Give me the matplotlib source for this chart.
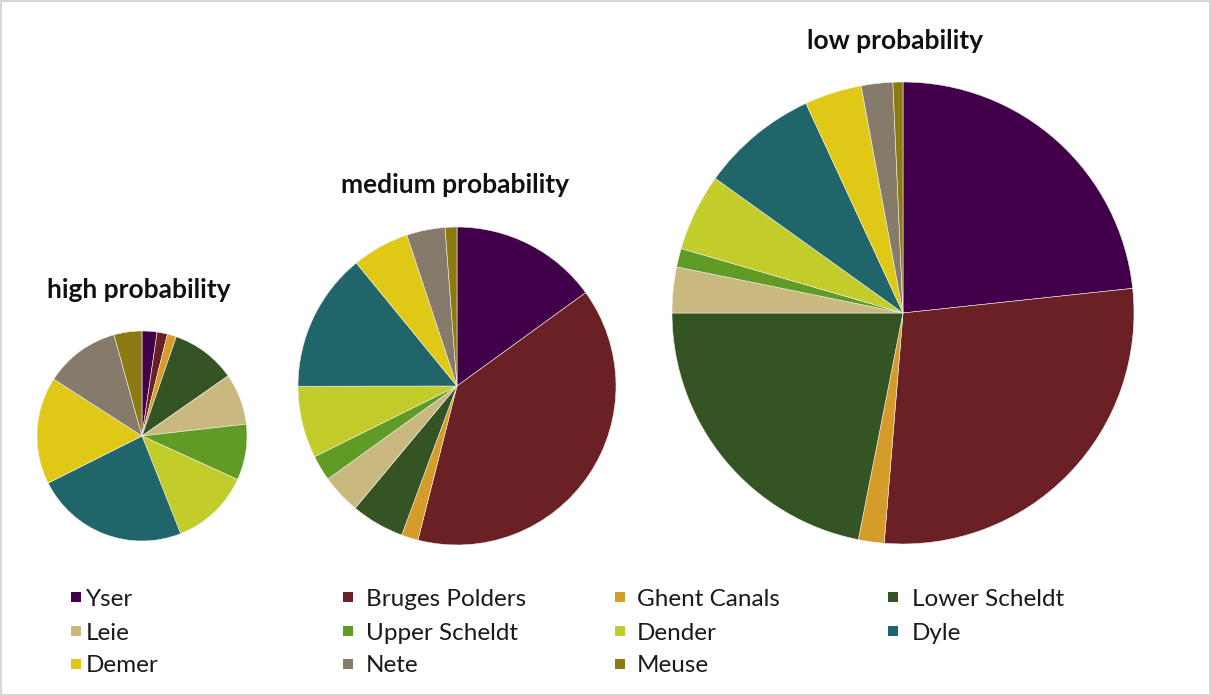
import matplotlib
matplotlib.use("Agg")
import matplotlib.pyplot as plt
from matplotlib.patches import Rectangle

# Basins, clockwise from 12 o'clock
basins = ["Yser", "Bruges Polders", "Ghent Canals", "Lower Scheldt", "Leie",
          "Upper Scheldt", "Dender", "Dyle", "Demer", "Nete", "Meuse"]
colors = ["#42004a", "#6a2025", "#d59c2a", "#345424", "#c9b97f",
          "#5f9b25", "#c2cc2a", "#1f6569", "#e0c816", "#867b6b", "#8b7b12"]

# Share of each basin (%) per flood probability scenario
high_prob = [2.3, 1.6, 1.4, 10.0, 7.9, 8.6, 12.2, 23.6, 16.5, 11.6, 4.3]
medium_prob = [15.0, 38.9, 1.7, 5.4, 4.0, 2.6, 7.3, 14.1, 5.8, 3.9, 1.2]
low_prob = [23.3, 28.0, 1.8, 21.9, 3.2, 1.3, 5.4, 8.2, 4.0, 2.2, 0.7]

titles = ["high probability", "medium probability", "low probability"]

W, H = 1211, 695
fig = plt.figure(figsize=(W / 100, H / 100), dpi=100)
fig.patch.set_facecolor("white")

def px_axes(cx, cy, r):
    return fig.add_axes([(cx - r) / W, 1 - (cy + r) / H, 2 * r / W, 2 * r / H])

# pie placement: centre x, centre y, radius (pixels), title centre y
layout = [(142, 436, 105, 290), (457, 386, 159, 185), (903, 313, 231, 41)]
title_x = [139, 455, 895]

for vals, title, (cx, cy, r, ty), tx in zip([high_prob, medium_prob, low_prob],
                                            titles, layout, title_x):
    ax = px_axes(cx, cy, r)
    ax.pie(vals, colors=colors, startangle=90, counterclock=False, radius=1,
           wedgeprops=dict(edgecolor="#f4f0ea", linewidth=0.4))
    ax.set_xlim(-1.0, 1.0)
    ax.set_ylim(-1.0, 1.0)
    ax.set_aspect("equal")
    ax.axis("off")
    fig.text(tx / W, 1 - ty / H, title, ha="center", va="center",
             fontsize=19, fontweight="bold", family="Lato", color="#111111")

# legend laid out row by row in four columns
col_marker_x = [76, 348, 620, 893]
col_text_x = [86, 366, 637, 912]
row_y = [597, 631, 664]
for i, (name, c) in enumerate(zip(basins, colors)):
    row, col = divmod(i, 4)
    mx, ty = col_marker_x[col], row_y[row]
    fig.patches.append(Rectangle(((mx - 5) / W, 1 - (ty + 5) / H), 10 / W, 10 / H,
                                 transform=fig.transFigure, facecolor=c,
                                 edgecolor="none"))
    fig.text(col_text_x[col] / W, 1 - (ty + 2) / H, name, ha="left", va="center",
             fontsize=17.5, family="Lato", color="#1a1a1a")

# thin light frame around the figure
fig.patches.append(Rectangle((0.5 / W, 0.5 / H), 1 - 1.5 / W, 1 - 1.5 / H,
                             transform=fig.transFigure, facecolor="none",
                             edgecolor="#cfcfcf", linewidth=1.2))

fig.savefig("out.png", dpi=100, facecolor="white")
